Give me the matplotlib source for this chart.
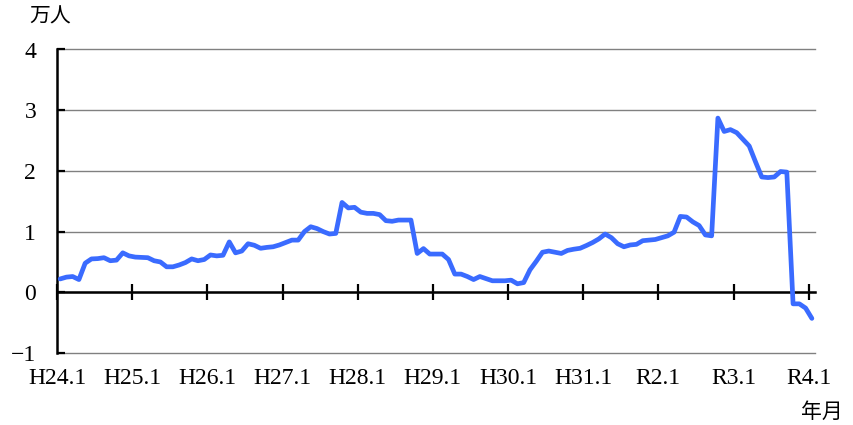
import matplotlib
matplotlib.use("Agg")
import matplotlib.pyplot as plt

# monthly values, H24.1 .. R4.1 (unit: 10,000 people)
values = [
    0.22, 0.25, 0.26, 0.21, 0.48, 0.55, 0.555, 0.57, 0.52, 0.53, 0.65, 0.60,
    0.58, 0.575, 0.57, 0.52, 0.50, 0.42, 0.42, 0.45, 0.49, 0.55, 0.52, 0.54,
    0.615, 0.60, 0.61, 0.83, 0.65, 0.68, 0.80, 0.775, 0.725, 0.74, 0.75, 0.78,
    0.82, 0.86, 0.86, 1.0, 1.08, 1.05, 1.0, 0.96, 0.97, 1.48, 1.39, 1.40,
    1.32, 1.30, 1.30, 1.28, 1.18, 1.17, 1.19, 1.19, 1.19, 0.64, 0.72, 0.63,
    0.63, 0.63, 0.54, 0.30, 0.30, 0.26, 0.21, 0.26, 0.225, 0.19, 0.19, 0.19,
    0.20, 0.14, 0.16, 0.37, 0.51, 0.66, 0.68, 0.66, 0.64, 0.69, 0.71, 0.725,
    0.77, 0.82, 0.88, 0.96, 0.90, 0.80, 0.75, 0.78, 0.79, 0.85, 0.86, 0.87,
    0.90, 0.93, 0.99, 1.25, 1.24, 1.16, 1.10, 0.945, 0.93, 2.87, 2.65, 2.68,
    2.63, 2.52, 2.41, 2.15, 1.90, 1.89, 1.90, 1.99, 1.98, -0.19, -0.19, -0.26,
    -0.43,
]
year_labels = ["H24.1", "H25.1", "H26.1", "H27.1", "H28.1", "H29.1",
               "H30.1", "H31.1", "R2.1", "R3.1", "R4.1"]
y_ticks = [-1, 0, 1, 2, 3, 4]

fonts = ["Liberation Serif", "Noto Sans CJK JP"]
plt.rcParams["font.family"] = fonts

fig = plt.figure(figsize=(8.54, 4.25), dpi=100)
ax = fig.add_axes([57 / 854, 1 - 353 / 425, (815 - 57) / 854, (353 - 49.5) / 425])

months = list(range(len(values)))
ax.plot(months, values, color="#3a6bff", lw=3.4, solid_joinstyle="round",
        solid_capstyle="round", zorder=3)

ax.set_xlim(-0.5, len(values) - 0.5)
ax.set_ylim(-1, 4)

ax.set_yticks(y_ticks)
ax.set_yticklabels([str(v).replace("-", "\u2212") for v in y_ticks], fontsize=17)
ax.grid(axis="y", color="#808080", lw=1.0)
for gl in ax.get_ygridlines():
    gl.set_clip_on(False)
ax.tick_params(axis="y", direction="in", length=6, width=1.6, pad=15)

for s in ["top", "right"]:
    ax.spines[s].set_visible(False)
ax.spines["left"].set_linewidth(1.8)
ax.spines["bottom"].set_position(("data", 0))
ax.spines["bottom"].set_linewidth(1.8)
ax.spines["bottom"].set_zorder(2)

tick_pos = [12 * k - 0.5 for k in range(len(year_labels))]
ax.set_xticks(tick_pos)
ax.tick_params(axis="x", direction="inout", length=12, width=1.6, labelbottom=False)

sec = ax.secondary_xaxis("bottom")
sec.set_xticks(tick_pos)
sec.set_xticklabels(year_labels, fontsize=17)
sec.tick_params(length=0, pad=11)
sec.spines["bottom"].set_visible(False)

fig.text(50 / 854, 1 - 18 / 425, "万人", fontsize=15, ha="center", va="center")
fig.text(822 / 854, 1 - 413 / 425, "年月", fontsize=15, ha="center", va="center")

fig.savefig("out.png", dpi=100)
